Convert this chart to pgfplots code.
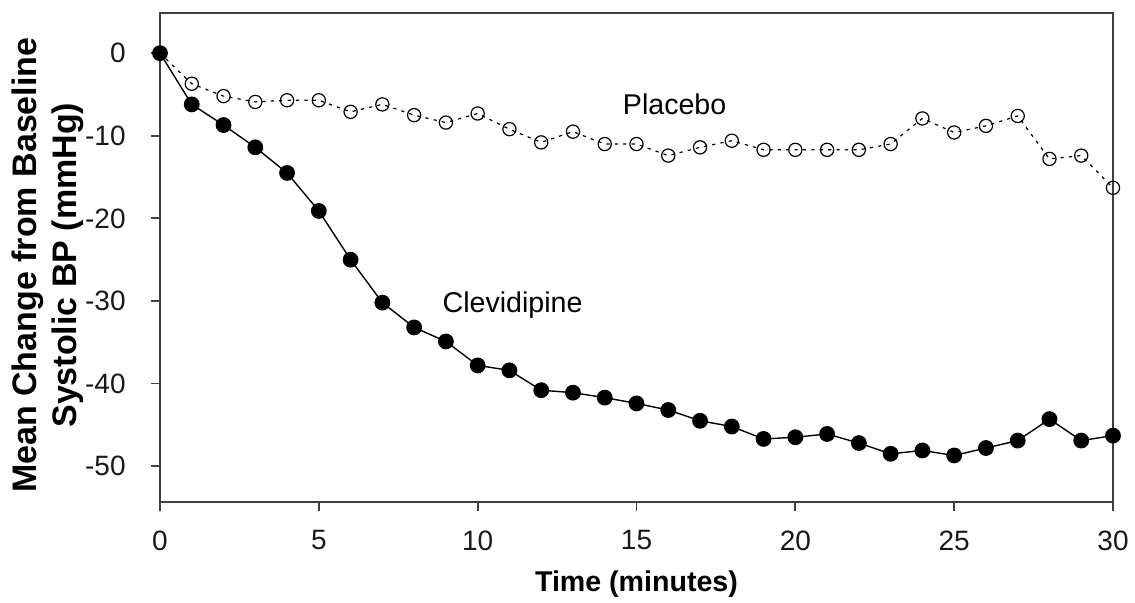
\documentclass[border=0pt]{standalone}
\usepackage{fontspec}
\setmainfont{Liberation Sans}
\usepackage{pgfplots}
\pgfplotsset{compat=1.18}
\usetikzlibrary{calc}

\begin{document}
\begin{tikzpicture}
\begin{axis}[
  scale only axis,
  width=476.5pt, height=244.5pt,
  xmin=0, xmax=30, ymin=-54.3, ymax=4.9,
  xtick={0,5,...,30}, ytick={-50,-40,...,0},
  tick align=outside, major tick length=4.5pt,
  xtick pos=bottom, ytick pos=left,
  axis line style={black!75, line width=0.9pt},
  tick style={black!75, line width=0.9pt},
  tick label style={font=\fontsize{14}{16}\selectfont, text=black!90, inner sep=0pt},
  yticklabel style={xshift=-12.5pt},
  xticklabel style={yshift=-9.8pt},
  /pgf/number format/assume math mode=true,
  clip=false,
]
% Placebo
\addplot[black, line width=0.6pt, dash pattern=on 1.6pt off 2.6pt,
  mark=o, mark size=3.3pt, mark options={solid, line width=0.6pt}]
coordinates {
(0,0) (1,-3.7) (2,-5.2) (3,-5.9) (4,-5.7) (5,-5.7) (6,-7.1) (7,-6.2)
(8,-7.5) (9,-8.4) (10,-7.3) (11,-9.2) (12,-10.8) (13,-9.5) (14,-11.0)
(15,-11.0) (16,-12.4) (17,-11.4) (18,-10.6) (19,-11.7) (20,-11.7)
(21,-11.7) (22,-11.7) (23,-11.0) (24,-7.9) (25,-9.6) (26,-8.8)
(27,-7.6) (28,-12.8) (29,-12.4) (30,-16.3)
};
% Clevidipine
\addplot[black, line width=0.7pt, mark=*, mark size=3.6pt]
coordinates {
(0,0) (1,-6.2) (2,-8.7) (3,-11.4) (4,-14.5) (5,-19.1) (6,-25.0)
(7,-30.2) (8,-33.2) (9,-34.9) (10,-37.8) (11,-38.4) (12,-40.8)
(13,-41.1) (14,-41.7) (15,-42.4) (16,-43.2) (17,-44.5) (18,-45.2)
(19,-46.7) (20,-46.5) (21,-46.1) (22,-47.2) (23,-48.5) (24,-48.1)
(25,-48.7) (26,-47.8) (27,-46.9) (28,-44.3) (29,-46.9) (30,-46.3)
};
\node[anchor=base, font=\fontsize{14.3}{17}\selectfont] at (axis cs:16.2,-7.45) {Placebo};
\node[anchor=base, font=\fontsize{14.3}{17}\selectfont] at (axis cs:11.1,-31.4) {Clevidipine};
\coordinate (sw) at (rel axis cs:0,0);
\coordinate (ne) at (rel axis cs:1,1);
\coordinate (lm) at (rel axis cs:0,0.5);
\coordinate (bm) at (rel axis cs:0.5,0);
\end{axis}
\node[anchor=base, font=\bfseries\fontsize{14.3}{17}\selectfont] at ($(bm)+(0,-45pt)$) {Time (minutes)};
\node[rotate=90, anchor=center, align=center, font=\bfseries\fontsize{17}{20}\selectfont]
  at ($(lm)+(-56pt,-4pt)$) {Mean Change from Baseline\\Systolic BP (mmHg)};
\pgfresetboundingbox
\path[use as bounding box] ($(sw)+(-80pt,-50.15pt)$) rectangle ($(ne)+(11pt,6.35pt)$);
\end{tikzpicture}
\end{document}
